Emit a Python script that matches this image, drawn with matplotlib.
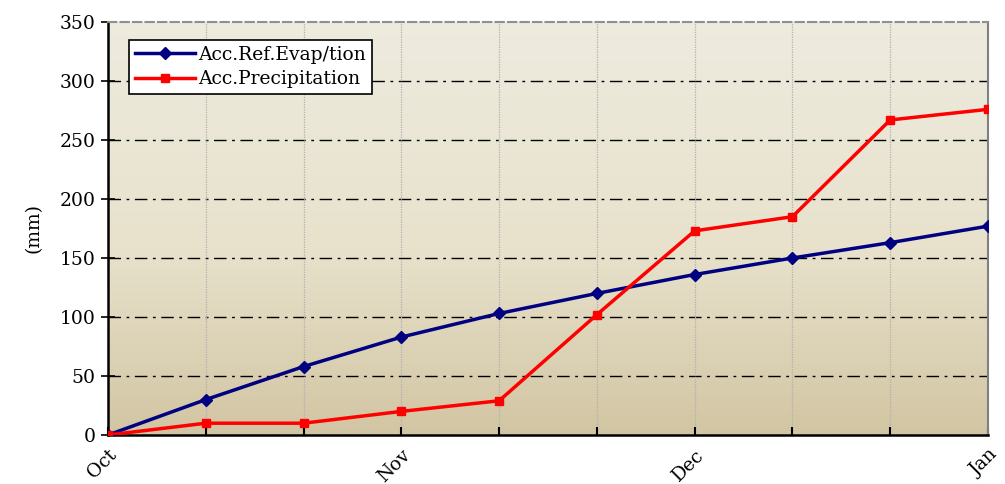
import numpy as np
import matplotlib
matplotlib.use("Agg")
import matplotlib.pyplot as plt
from matplotlib.colors import LinearSegmentedColormap

x_labels = ["Oct", "", "", "Nov", "", "", "Dec", "", "", "Jan"]
evap = [0, 30, 58, 83, 103, 120, 136, 150, 163, 177]
precip = [0, 10, 10, 20, 29, 102, 173, 185, 267, 276]
y_ticks = [0, 50, 100, 150, 200, 250, 300, 350]

plt.rcParams['font.family'] = ['DejaVu Serif']
FS = 13.5

fig = plt.figure(figsize=(10.05, 4.84), dpi=100)
ax = fig.add_axes([108/1005, 1-435/484, 880/1005, 413/484])

x = np.arange(len(evap))
ax.set_xlim(0, len(evap)-1)
ax.set_ylim(0, 350)

# gradient background
cmap = LinearSegmentedColormap.from_list("bg", [(0, "#d2c5a3"), (0.45, "#e8e2cc"), (1, "#eeebdf")])
grad = np.linspace(0, 1, 256).reshape(-1, 1)
ax.imshow(grad, extent=[0, len(evap)-1, 0, 350], origin='lower', aspect='auto', cmap=cmap, zorder=0)

for yv in y_ticks[1:-1]:
    ax.axhline(yv, color='black', lw=1.0, ls=(0, (9, 4, 2, 4)), zorder=1)
for xv in x[1:-1]:
    ax.axvline(xv, color='#b0b0b0', lw=0.9, ls=(0, (1, 1)), zorder=1)

ax.plot(x, evap, color='#000080', lw=2.5, marker='D', ms=6, label='Acc.Ref.Evap/tion', zorder=3)
ax.plot(x, precip, color='#ff0000', lw=2.5, marker='s', ms=6, label='Acc.Precipitation', zorder=3)

ax.set_xticks(x)
ax.set_xticklabels(x_labels, rotation=45, ha='right', rotation_mode='anchor', fontsize=FS)
ax.set_yticks(y_ticks)
ax.set_yticklabels([str(v) for v in y_ticks], fontsize=FS)
ax.tick_params(axis='x', direction='in', length=6, width=1.5, pad=8)
ax.tick_params(axis='y', direction='inout', length=10, width=1.2, pad=4)
ax.set_ylabel('(mm)', fontsize=FS, labelpad=12)

ax.spines['left'].set_linewidth(1.8)
ax.spines['bottom'].set_linewidth(1.8)
ax.spines['right'].set_color('#808080')
ax.spines['right'].set_linewidth(1.5)
ax.spines['top'].set_color('#909090')
ax.spines['top'].set_linestyle((0, (4, 2)))
ax.spines['top'].set_linewidth(1.5)

leg = ax.legend(loc='upper left', bbox_to_anchor=(21/880, 1-18/413), fontsize=FS,
                frameon=True, fancybox=False, framealpha=1, edgecolor='black',
                borderaxespad=0, borderpad=0.3, handlelength=3.2, handletextpad=0.2,
                labelspacing=0.35)
leg.get_frame().set_linewidth(1.2)
leg.get_frame().set_facecolor('white')

fig.savefig('out.png', dpi=100)
